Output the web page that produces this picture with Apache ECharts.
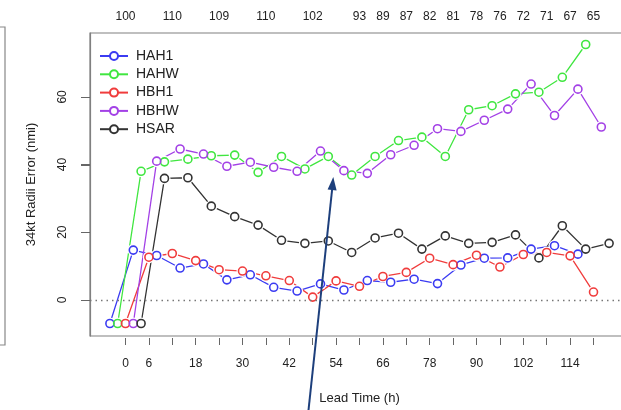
<!DOCTYPE html>
<html>
<head>
<meta charset="utf-8">
<script src="https://cdn.jsdelivr.net/npm/echarts@6/dist/echarts.min.js"></script>
<style>
html, body { margin: 0; padding: 0; background: #fff; }
#main { width: 621px; height: 410px; }
</style>
</head>
<body>
<div id="main"></div>
<script>
var leadTimes = [0, 6, 12, 18, 24, 30, 36, 42, 48, 54, 60, 66, 72, 78, 84, 90, 96, 102, 108, 114, 120];
var names = ['HAH1', 'HAHW', 'HBH1', 'HBHW', 'HSAR'];
var colors = ['#3b3bf2', '#40e640', '#f03c3c', '#a341e6', '#333333'];
// series are shifted sideways a little (hours) so the points do not sit on top of each other
var dodge = [-4, -2, 0, 2, 4];

var hah1 = [-7, 14.7, 13.1, 9.4, 10.6, 5.9, 7.4, 3.7, 2.6, 4.7, 2.9, 5.7, 5.2, 6.1, 4.8, 10.3, 12.3, 12.4, 15.0, 16.0, 13.5];
var hahw = [-7, 38.0, 40.8, 41.6, 42.6, 42.8, 37.7, 42.4, 38.7, 42.4, 36.9, 42.4, 47.1, 48.1, 42.4, 56.2, 57.4, 60.9, 61.4, 65.8, 75.5];
var hbh1 = [-7, 12.6, 13.7, 11.6, 8.9, 8.5, 7.1, 5.7, 0.8, 5.6, 4.0, 6.9, 8.1, 12.3, 10.4, 13.2, 9.7, 13.4, 14.0, 13.0, 2.3];
var hbhw = [-7, 41.0, 44.6, 43.1, 39.5, 40.7, 39.2, 38.0, 44.0, 38.2, 37.4, 42.9, 45.7, 50.6, 49.8, 53.1, 56.4, 63.8, 54.5, 62.3, 51.1];
var hsar = [-7, 35.9, 36.1, 27.7, 24.6, 22.1, 17.6, 16.7, 17.4, 14.0, 18.3, 19.7, 15.0, 18.9, 16.7, 17.0, 19.2, 12.4, 21.9, 15.0, 16.7];
var allValues = [hah1, hahw, hbh1, hbhw, hsar];

var xTicks = [0, 6, 12, 18, 24, 30, 36, 42, 48, 54, 60, 66, 72, 78, 84, 90, 96, 102, 108, 114, 120];
var xLabels = [0, 6, 18, 30, 42, 54, 66, 78, 90, 102, 114];
var yTicks = [0, 20, 40, 60];
var countLeads = [0, 12, 24, 36, 48, 60, 66, 72, 78, 84, 90, 96, 102, 108, 114, 120];
var counts = [100, 110, 109, 110, 102, 93, 89, 87, 82, 81, 78, 76, 72, 71, 67, 65];

var font = 'Liberation Sans, Arial, sans-serif';
var myChart = echarts.init(document.getElementById('main'));

var series = [];
names.forEach(function (name, k) {
    var pts = leadTimes.map(function (t, i) { return [t + dodge[k], allValues[k][i]]; });
    var line = {
        name: name,
        type: 'line',
        data: pts,
        symbol: 'emptyCircle',
        showSymbol: false,
        color: colors[k],
        lineStyle: { width: 1.3, color: colors[k] },
        z: 2,
        animation: false,
        silent: true
    };
    if (k === 0) {
        line.markLine = {
            silent: true,
            symbol: 'none',
            label: { show: false },
            lineStyle: { type: [1.5, 4], color: '#777', width: 1.3 },
            data: [{ yAxis: 0 }]
        };
    }
    series.push(line);
    // white halo so the line stops short of each circle
    series.push({
        name: name,
        type: 'scatter',
        data: pts,
        symbol: 'circle',
        symbolSize: 12,
        itemStyle: { color: '#fff', opacity: 1 },
        z: 3,
        animation: false,
        silent: true
    });
    series.push({
        name: name,
        type: 'scatter',
        data: pts,
        symbol: 'circle',
        symbolSize: 8,
        itemStyle: { color: 'rgba(255,255,255,0)', borderColor: colors[k], borderWidth: 1.6, opacity: 1 },
        z: 4,
        animation: false,
        silent: true
    });
});

var graphics = [
    {
        type: 'polyline',
        shape: { points: [[0, 27], [5, 27], [5, 345], [0, 345]] },
        style: { stroke: '#888', lineWidth: 1.2, fill: null },
        silent: true
    },
    {
        type: 'line',
        shape: { x1: 308.3, y1: 412, x2: 332.5, y2: 186 },
        style: { stroke: '#1d3f7c', lineWidth: 2 },
        silent: true,
        z: 100
    },
    {
        type: 'polygon',
        shape: { points: [[333.3, 177], [336.6, 190.4], [327.6, 189.4]] },
        style: { fill: '#1d3f7c' },
        silent: true,
        z: 100
    }
];

option = {
    backgroundColor: '#fff',
    animation: false,
    grid: {
        left: 90,
        top: 33,
        width: 539,
        height: 303,
        outerBoundsMode: 'none',
        containLabel: false,
        show: true,
        borderColor: '#808080',
        borderWidth: 1.2,
        backgroundColor: 'transparent'
    },
    legend: {
        orient: 'vertical',
        left: 94,
        top: 44,
        data: names,
        itemWidth: 28,
        itemHeight: 10,
        itemGap: 4.3,
        textStyle: { fontFamily: font, fontSize: 14, color: '#222', lineHeight: 13, padding: [0, 0, 0, 3] },
        selectedMode: false
    },
    xAxis: [
        {
            type: 'value',
            min: -9.1,
            max: 129.1,
            offset: 2,
            name: 'Lead Time (h)',
            nameLocation: 'middle',
            nameGap: 54,
            nameTextStyle: { fontFamily: font, fontSize: 13, color: '#222' },
            axisLine: { show: false, onZero: false },
            axisTick: { show: true, customValues: xTicks, length: 7, lineStyle: { color: '#666', width: 1 } },
            axisLabel: { customValues: xLabels, margin: 20, fontFamily: font, fontSize: 12, color: '#222' },
            splitLine: { show: false }
        },
        {
            type: 'value',
            position: 'top',
            min: -9.1,
            max: 129.1,
            axisLine: { show: false, onZero: false },
            axisTick: { show: false },
            axisLabel: {
                customValues: countLeads,
                margin: 10,
                fontFamily: font,
                fontSize: 12,
                color: '#222',
                formatter: function (v) { return counts[countLeads.indexOf(v)]; }
            },
            splitLine: { show: false }
        }
    ],
    yAxis: {
        type: 'value',
        min: -10.7,
        max: 78.9,
        name: '34kt Radii Error (nmi)',
        nameLocation: 'middle',
        nameRotate: 90,
        nameGap: 52,
        nameTextStyle: { fontFamily: font, fontSize: 13, color: '#222' },
        axisLine: { show: true, onZero: false, lineStyle: { color: '#808080', width: 1.2 } },
        axisTick: { show: true, customValues: yTicks, length: 9, lineStyle: { color: '#666', width: 1 } },
        axisLabel: { customValues: yTicks, rotate: 90, margin: 21, fontFamily: font, fontSize: 12, color: '#222' },
        splitLine: { show: false }
    },
    graphic: graphics,
    series: series
};

myChart.setOption(option);

// y tick marks placed through the axis scale
var tickMarks = yTicks.map(function (v) {
    var py = Math.round(myChart.convertToPixel({ yAxisIndex: 0 }, v)) + 0.5;
    return {
        type: 'line',
        shape: { x1: 81, y1: py, x2: 90, y2: py },
        style: { stroke: '#666', lineWidth: 1 },
        silent: true
    };
});
myChart.setOption({ graphic: graphics.concat(tickMarks) });
</script>
</body>
</html>
